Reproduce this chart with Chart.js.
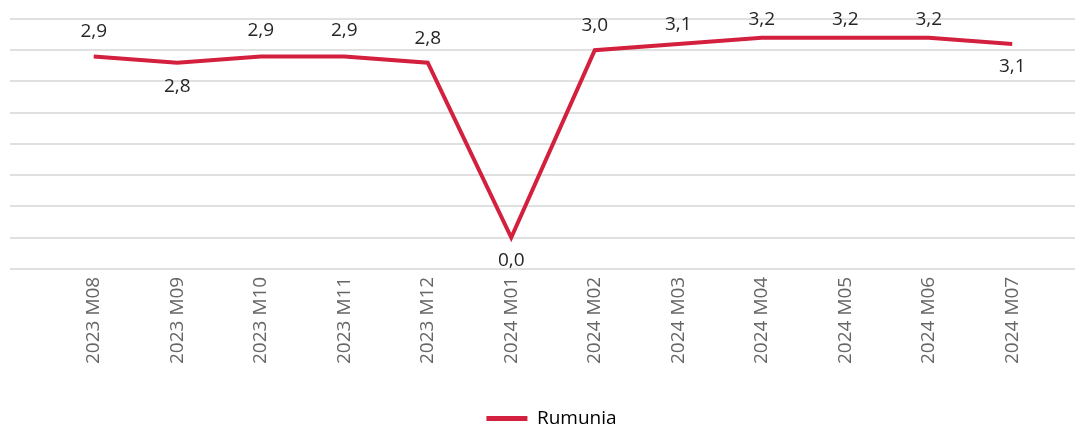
<!DOCTYPE html>
<html>
<head>
<meta charset="utf-8">
<script src="https://cdn.jsdelivr.net/npm/chart.js@4.4.1/dist/chart.umd.min.js"></script>
<style>
  html, body { margin: 0; padding: 0; background: #ffffff; }
  #wrap { width: 1083px; height: 428px; position: relative; }
</style>
</head>
<body>
<div id="wrap"><canvas id="c" width="1083" height="428"></canvas></div>
<script>
// ---- data ----
const categories = ["2023 M08", "2023 M09", "2023 M10", "2023 M11", "2023 M12", "2024 M01",
                    "2024 M02", "2024 M03", "2024 M04", "2024 M05", "2024 M06", "2024 M07"];
const seriesName = "Rumunia";
const values = [2.9, 2.8, 2.9, 2.9, 2.8, 0.0, 3.0, 3.1, 3.2, 3.2, 3.2, 3.1];
const yMin = -0.5, yMax = 3.5, yStep = 0.5;

// ---- style ----
const LINE_COLOR = '#d4203f';
const GRID_COLOR = '#e0e0e0';
const FONT = '"Open Sans", "Noto Sans", sans-serif';

// label offset (px, relative to point) — negative = above
const labelOffsets = [-25, 24, -26, -26, -24, 23, -25, -19, -18, -18, -18, 23];

const dataLabelPlugin = {
  id: 'dataLabels',
  afterDatasetsDraw(chart, args, opts) {
    const ctx = chart.ctx;
    const meta = chart.getDatasetMeta(0);
    ctx.save();
    ctx.font = '19px ' + FONT;
    ctx.fillStyle = '#262626';
    ctx.textAlign = 'center';
    ctx.textBaseline = 'middle';
    meta.data.forEach((pt, i) => {
      const v = chart.data.datasets[0].data[i];
      const txt = v.toFixed(1).replace('.', ',');
      ctx.fillText(txt, pt.x, pt.y + opts.offsets[i]);
    });
    ctx.restore();
  }
};

// nudge the legend block slightly to the right, as in the reference
const legendShiftPlugin = {
  id: 'legendShift',
  afterLayout(chart) {
    if (chart.legend) { chart.legend.left += 9; chart.legend.right += 9; }
  }
};

new Chart(document.getElementById('c'), {
  type: 'line',
  data: {
    labels: categories,
    datasets: [{
      label: seriesName,
      data: values,
      borderColor: LINE_COLOR,
      backgroundColor: LINE_COLOR,
      borderWidth: 4,
      borderJoinStyle: 'miter',
      pointRadius: 0,
      pointHoverRadius: 0,
      tension: 0,
      fill: false
    }]
  },
  options: {
    responsive: false,
    animation: false,
    events: [],
    layout: { padding: { top: 19, left: 10, right: 8, bottom: -10 } },
    scales: {
      x: {
        offset: true,
        grid: { display: false, drawTicks: false },
        border: { display: false },
        ticks: {
          autoSkip: false,
          minRotation: 90,
          maxRotation: 90,
          padding: 8,
          color: '#666666',
          font: { family: FONT, size: 19 }
        },
        afterFit(axis) { axis.height += 37; }
      },
      y: {
        position: 'left',
        min: yMin, max: yMax,
        grid: { color: GRID_COLOR, lineWidth: 2, drawTicks: true, tickLength: 42 },
        border: { display: false },
        ticks: { display: false, stepSize: yStep }
      },
      y2: {
        position: 'right',
        min: yMin, max: yMax,
        grid: { color: GRID_COLOR, lineWidth: 2, drawTicks: true, tickLength: 21, drawOnChartArea: false },
        border: { display: false },
        ticks: { display: false, stepSize: yStep }
      }
    },
    plugins: {
      legend: {
        position: 'bottom',
        labels: {
          boxWidth: 41,
          boxHeight: 5,
          padding: 0,
          color: '#262626',
          font: { family: FONT, size: 19 },
          generateLabels(chart) {
            return chart.data.datasets.map((ds, i) => ({
              text: ds.label, fillStyle: ds.borderColor, strokeStyle: ds.borderColor,
              lineWidth: 0, datasetIndex: i, hidden: false
            }));
          }
        }
      },
      tooltip: { enabled: false },
      dataLabels: { offsets: labelOffsets }
    }
  },
  plugins: [dataLabelPlugin, legendShiftPlugin]
});
</script>
</body>
</html>
